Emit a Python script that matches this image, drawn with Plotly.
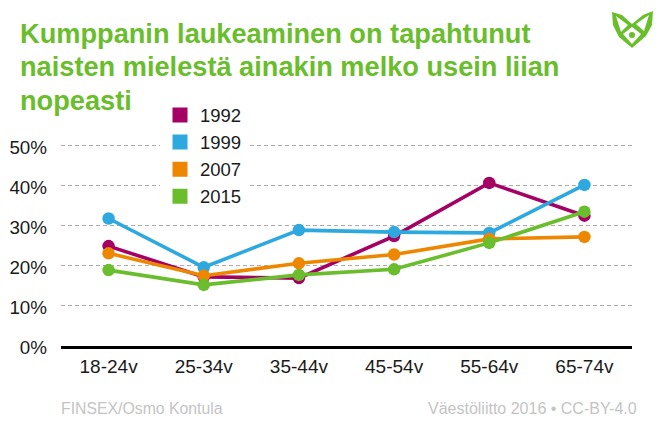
import plotly.graph_objects as go

categories = ["18-24v", "25-34v", "35-44v", "45-54v", "55-64v", "65-74v"]
y1992 = [24.9, 17.2, 16.9, 27.4, 40.7, 32.5]
y1999 = [31.8, 19.6, 28.9, 28.4, 28.2, 40.2]
y2007 = [23.1, 17.5, 20.6, 22.8, 26.7, 27.2]
y2015 = [18.9, 15.2, 17.7, 19.1, 25.7, 33.5]
years = ["1992", "1999", "2007", "2015"]
colors = ["#A50064", "#2EA9E0", "#EE8700", "#6ABD2C"]
yticks = [0, 10, 20, 30, 40, 50]
yticklabels = ["0%", "10%", "20%", "30%", "40%", "50%"]

title_lines = ["Kumppanin laukeaminen on tapahtunut", "naisten mielestä ainakin melko usein liian", "nopeasti"]
title_y = [33, 66.5, 100]
font = "Liberation Sans"
W, H = 662, 440
ML, MR, MT, MB = 15, 8, 20, 26


def px(x):
    return (x - ML) / (W - ML - MR)


def py(y):
    return (H - MB - y) / (H - MT - MB)


def path(points):
    return "M " + " L ".join(f"{px(a):.4f},{py(b):.4f}" for a, b in points) + " Z"


fig = go.Figure()
for name, values, color in zip(years, [y1992, y1999, y2007, y2015], colors):
    fig.add_trace(go.Scatter(x=categories, y=values, mode="lines+markers", showlegend=False,
                             line=dict(color=color, width=3.6), marker=dict(color=color, size=12.5)))
# square swatches for the legend
for name, color in zip(years, colors):
    fig.add_trace(go.Scatter(x=[None], y=[None], mode="markers", name=name, legendgroup=name,
                             marker=dict(color=color, size=15, symbol="square")))

# logo
logo_green = "#6ABD2C"
fig.add_shape(type="path", xref="paper", yref="paper", fillcolor=logo_green, line_width=0,
              path=path([(612, 12), (622, 15), (632, 24), (643, 15), (653, 11), (652, 25), (646, 36), (632, 48), (619, 37), (613, 25)]))
fig.add_shape(type="path", xref="paper", yref="paper", fillcolor="white", line_width=0,
              path=path([(616, 16), (628, 25), (621, 32)]))
fig.add_shape(type="path", xref="paper", yref="paper", fillcolor="white", line_width=0,
              path=path([(649, 15), (644, 31), (636, 24)]))
fig.add_shape(type="path", xref="paper", yref="paper", fillcolor="white", line_width=0,
              path=path([(632, 27), (641, 34), (632, 44), (623, 34)]))
fig.add_shape(type="circle", xref="paper", yref="paper", fillcolor=logo_green, line_width=0,
              x0=px(629), x1=px(635), y0=py(38), y1=py(32))

for line, ypos in zip(title_lines, title_y):
    fig.add_annotation(text=line, xref="paper", yref="paper", x=px(17.5), y=py(ypos), xanchor="left", yanchor="middle",
                       showarrow=False, font=dict(size=27.2, color="#6ABD2C", weight="bold"))

fig.add_annotation(text="FINSEX/Osmo Kontula", xref="paper", yref="paper", x=px(59), y=py(408),
                   xanchor="left", yanchor="middle", showarrow=False, font=dict(size=15.8, color="#C4C4C4"))
fig.add_annotation(text="Väestöliitto 2016 • CC-BY-4.0", xref="paper", yref="paper", x=px(639), y=py(408),
                   xanchor="right", yanchor="middle", showarrow=False, font=dict(size=16, color="#C4C4C4"))

fig.update_layout(
    width=W, height=H, margin=dict(l=ML, r=MR, t=MT, b=MB), autosize=False,
    paper_bgcolor="white", plot_bgcolor="white",
    font=dict(family=font, color="#1a1a1a", size=18),
    legend=dict(x=px(160), y=py(96.5), xanchor="left", yanchor="top",
                bgcolor="white", tracegroupgap=0, font=dict(size=18.5), entrywidth=83,
                itemclick=False, itemdoubleclick=False),
    xaxis=dict(domain=[px(61), px(632)], range=[-0.5, 5.5], showline=True, linecolor="#000000", linewidth=3,
               showgrid=False, ticks="", tickfont=dict(size=19), ticklabelstandoff=1, zeroline=False),
    yaxis=dict(domain=[py(345.7), py(143.7)], range=[0, 50.5], tickvals=yticks, ticktext=yticklabels, showline=False,
               zeroline=False, gridcolor="#ABABAB", griddash="4px,3px", gridwidth=1.3, ticks="",
               tickfont=dict(size=18.8), ticklabelstandoff=13, ticklabelshift=2),
)
fig.write_html("out.html", config=dict(displayModeBar=False), post_script="document.body.style.margin='0';")
